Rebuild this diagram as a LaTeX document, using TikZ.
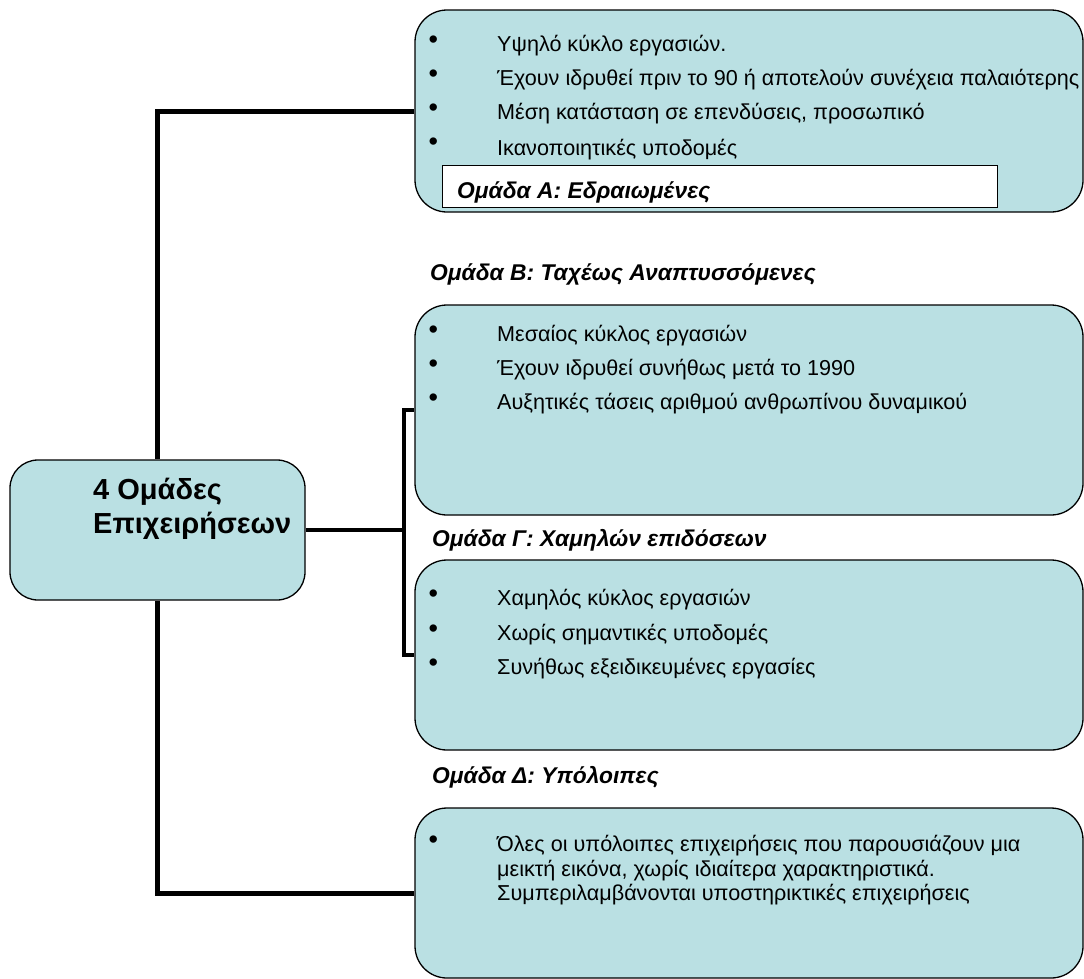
\documentclass[tikz,border=0pt]{standalone}
\usepackage{fontspec}
\setmainfont{Liberation Sans}
\definecolor{boxfill}{RGB}{186,224,227}
\tikzset{
  box/.style={draw=black, line width=1.3pt, fill=boxfill, rounded corners=32pt, inner sep=0pt},
  conn/.style={draw=black, line width=5pt},
  txt/.style={anchor=base west, inner sep=0pt, font=\fontsize{21.6}{25}\selectfont},
  bul/.style={anchor=base west, inner sep=0pt, font=\fontsize{27}{28}\selectfont},
  lbl/.style={anchor=base west, inner sep=0pt, font=\fontsize{22.8}{26}\selectfont\bfseries\itshape},
  ctr/.style={anchor=base west, inner sep=0pt, font=\fontsize{29}{34}\selectfont\bfseries},
  lblbox/.style={draw=black, line width=1pt, fill=white, inner sep=0pt}
}
\begin{document}
\begin{tikzpicture}[x=1pt,y=-1pt]
\useasboundingbox (0,0) rectangle (1084,978);
\clip (0,0) rectangle (1084,978);
% boxes
\node[box, minimum width=668pt, minimum height=202pt] (A) at (749,111) {};
\node[box, minimum width=668pt, minimum height=210pt] (B) at (749,410) {};
\node[box, minimum width=668pt, minimum height=190pt] (G) at (749,655) {};
\node[box, minimum width=668pt, minimum height=170pt] (D) at (749,893) {};
\node[box, rounded corners=28pt, minimum width=295pt, minimum height=140pt] (C) at (157.5,530) {};
% center text
\node[ctr] (c1) at (93,499) {4 Ομάδες};
\node[ctr] (c2) at (93,533) {Επιχειρήσεων};
% connectors
\draw[conn] (A.west) -| (C.north);
\draw[conn] (D.west) -| (C.south);
\coordinate (j) at (404,530);
\draw[conn, line width=4.5pt] (C.east) -- (j);
\draw[conn, line width=4.5pt] (B.west) -| (j) |- (G.west);
% box A text
\node[bul] (a1b) at (428.5,48) {•};
\node[txt] (a1) at (497,51) {Υψηλό κύκλο εργασιών.};
\node[bul] (a2b) at (428.5,82) {•};
\node[txt] (a2) at (497,85) {Έχουν ιδρυθεί πριν το 90 ή αποτελούν συνέχεια παλαιότερης};
\node[bul] (a3b) at (428.5,116) {•};
\node[txt] (a3) at (497,119) {Μέση κατάσταση σε επενδύσεις, προσωπικό};
\node[bul] (a4b) at (428.5,150) {•};
\node[txt] (a4) at (497,155) {Ικανοποιητικές υποδομές};
\node[lblbox, minimum width=555pt, minimum height=42pt] (albox) at (719.5,186) {};
\node[lbl] (al) at (457,198) {Ομάδα Α: Εδραιωμένες};
% box B
\node[lbl] (bl) at (430,280) {Ομάδα Β: Ταχέως Αναπτυσσόμενες};
\node[bul] (b1b) at (428.5,338) {•};
\node[txt] (b1) at (497,341) {Μεσαίος κύκλος εργασιών};
\node[bul] (b2b) at (428.5,372) {•};
\node[txt] (b2) at (497,375) {Έχουν ιδρυθεί συνήθως μετά το 1990};
\node[bul] (b3b) at (428.5,406) {•};
\node[txt] (b3) at (497,409) {Αυξητικές τάσεις αριθμού ανθρωπίνου δυναμικού};
% box G
\node[lbl] (gl) at (432,546) {Ομάδα Γ: Χαμηλών επιδόσεων};
\node[bul] (g1b) at (428.5,602) {•};
\node[txt] (g1) at (497,605) {Χαμηλός κύκλος εργασιών};
\node[bul] (g2b) at (428.5,637) {•};
\node[txt] (g2) at (497,640) {Χωρίς σημαντικές υποδομές};
\node[bul] (g3b) at (428.5,671) {•};
\node[txt] (g3) at (497,674) {Συνήθως εξειδικευμένες εργασίες};
% box D
\node[lbl] (dl) at (432,783) {Ομάδα Δ: Υπόλοιπες};
\node[bul] (d1b) at (428.5,848) {•};
\node[txt] (d1) at (497,851) {Όλες οι υπόλοιπες επιχειρήσεις που παρουσιάζουν μια};
\node[txt] (d2) at (497,876) {μεικτή εικόνα, χωρίς ιδιαίτερα χαρακτηριστικά.};
\node[txt] (d3) at (497,900) {Συμπεριλαμβάνονται υποστηρικτικές επιχειρήσεις};
\end{tikzpicture}
\end{document}
